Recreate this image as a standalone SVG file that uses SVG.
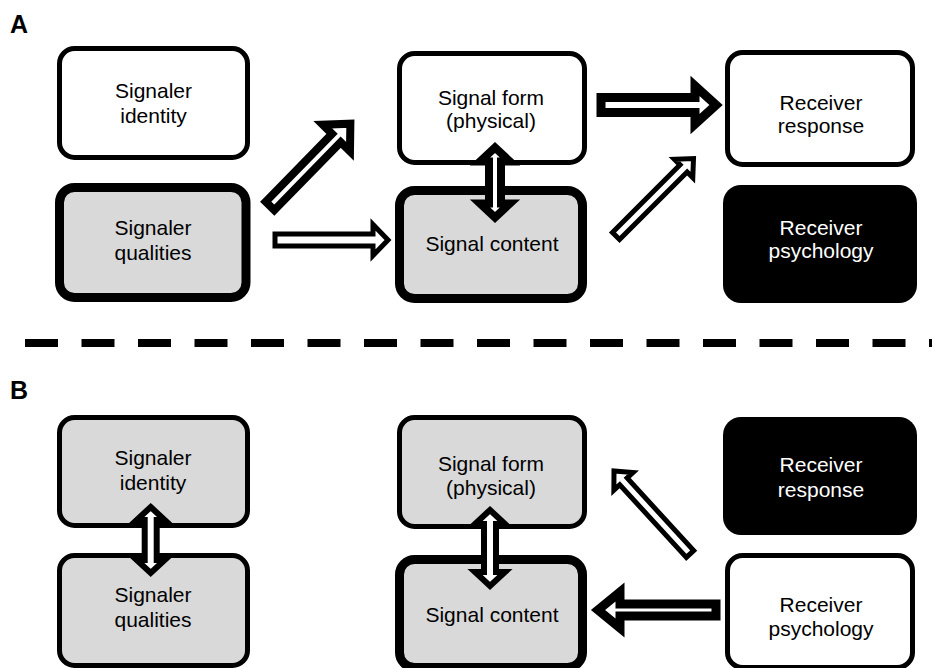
<svg xmlns="http://www.w3.org/2000/svg" width="932" height="668" viewBox="0 0 932 668">
  <style>
    .box { stroke: #000; stroke-linejoin: round; }
    .thin { stroke-width: 5; }
    .thick { stroke-width: 9; }
    .white { fill: #fff; }
    .gray { fill: #d9d9d9; }
    .black { fill: #000; stroke: none; }
    .lbl { font-family: "Liberation Sans", Arial, sans-serif; font-size: 21px; text-anchor: middle; fill: #000; }
    .inv { fill: #fff; }
    .panel { font-family: "Liberation Sans", Arial, sans-serif; font-size: 25px; font-weight: bold; fill: #000; }
    .arrow { fill: #fff; stroke: #000; stroke-linejoin: miter; stroke-miterlimit: 10; }
  </style>

  <rect width="932" height="668" fill="#fff"/>

  <!-- panel letters -->
  <text class="panel" x="10" y="33">A</text>
  <text class="panel" x="10" y="399">B</text>

  <!-- divider between panels -->
  <line x1="25" y1="343" x2="932" y2="343" stroke="#000" stroke-width="8" stroke-dasharray="33 23.5"/>

  <!-- Panel A nodes -->
  <g id="a-signaler-identity">
    <rect class="box thin white" x="59.5" y="48.5" width="188" height="109" rx="15"/>
    <text class="lbl" x="153.5" y="98">Signaler</text>
    <text class="lbl" x="153.5" y="122.5">identity</text>
  </g>
  <g id="a-signaler-qualities">
    <rect class="box thick gray" x="59.5" y="187.5" width="186.5" height="110" rx="15"/>
    <text class="lbl" x="153" y="235">Signaler</text>
    <text class="lbl" x="153" y="260">qualities</text>
  </g>
  <g id="a-signal-form">
    <rect class="box thin white" x="399.5" y="53.5" width="185" height="109" rx="15"/>
    <text class="lbl" x="491" y="105">Signal form</text>
    <text class="lbl" x="491" y="128">(physical)</text>
  </g>
  <g id="a-signal-content">
    <rect class="box thick gray" x="399.5" y="190.5" width="183" height="108" rx="15"/>
    <text class="lbl" x="492" y="251">Signal content</text>
  </g>
  <g id="a-receiver-response">
    <rect class="box thin white" x="727.5" y="52.5" width="185" height="112" rx="15"/>
    <text class="lbl" x="821" y="110">Receiver</text>
    <text class="lbl" x="821" y="133">response</text>
  </g>
  <g id="a-receiver-psychology">
    <rect class="black" x="723" y="185" width="194" height="118" rx="18"/>
    <text class="lbl inv" x="821" y="235">Receiver</text>
    <text class="lbl inv" x="821" y="258">psychology</text>
  </g>

  <!-- Panel B nodes -->
  <g id="b-signaler-identity">
    <rect class="box thin gray" x="59.5" y="417.5" width="188" height="108" rx="15"/>
    <text class="lbl" x="153" y="465">Signaler</text>
    <text class="lbl" x="153" y="490">identity</text>
  </g>
  <g id="b-signaler-qualities">
    <rect class="box thin gray" x="59.5" y="555.5" width="188" height="110" rx="15"/>
    <text class="lbl" x="153" y="602">Signaler</text>
    <text class="lbl" x="153" y="627">qualities</text>
  </g>
  <g id="b-signal-form">
    <rect class="box thin gray" x="399.5" y="417.5" width="185" height="109" rx="15"/>
    <text class="lbl" x="491" y="471">Signal form</text>
    <text class="lbl" x="491" y="495">(physical)</text>
  </g>
  <g id="b-signal-content">
    <rect class="box thick gray" x="399.5" y="559.5" width="183" height="108" rx="15"/>
    <text class="lbl" x="492" y="622">Signal content</text>
  </g>
  <g id="b-receiver-response">
    <rect class="black" x="723" y="417" width="194" height="118" rx="18"/>
    <text class="lbl inv" x="821" y="472">Receiver</text>
    <text class="lbl inv" x="821" y="497">response</text>
  </g>
  <g id="b-receiver-psychology">
    <rect class="box thin white" x="727.5" y="555.5" width="185" height="112" rx="15"/>
    <text class="lbl" x="821" y="612">Receiver</text>
    <text class="lbl" x="821" y="636">psychology</text>
  </g>

  <!-- block-arrow connectors -->
  <g id="connectors">
    <!-- A: qualities -> form -->
    <path class="arrow" stroke-width="8" transform="translate(270,206) rotate(-45.67)" d="M0,-6 H95 V-19 L115,0 L95,19 V6 H0 Z"/>
    <!-- A: qualities -> content -->
    <path class="arrow" stroke-width="5" transform="translate(275,240)" d="M0,-6 H98 V-15.5 L113,0 L98,15.5 V6 H0 Z"/>
    <!-- A: form <-> content -->
    <path class="arrow" stroke-width="8" transform="translate(495,147.5) rotate(90)" d="M0,0 L14,-15 V-6 H56 V-15 L70,0 L56,15 V6 H14 V15 Z"/>
    <!-- A: form -> response -->
    <path class="arrow" stroke-width="9" transform="translate(601,105)" d="M0,-7.5 H94 V-19 L115,0 L94,19 V7.5 H0 Z"/>
    <!-- A: content -> response -->
    <path class="arrow" stroke-width="5" transform="translate(616,236) rotate(-45)" d="M0,-5 H95.6 V-13 L109.6,0 L95.6,13 V5 H0 Z"/>

    <!-- B: identity <-> qualities -->
    <path class="arrow" stroke-width="6" transform="translate(150.7,507) rotate(90)" d="M0,0 L13,-14 V-6 H53 V-14 L66,0 L53,14 V6 H13 V14 Z"/>
    <!-- B: form <-> content -->
    <path class="arrow" stroke-width="6" transform="translate(490,510) rotate(90)" d="M0,0 L14,-15 V-6 H62 V-15 L76,0 L62,15 V6 H14 V15 Z"/>
    <!-- B: psychology -> form -->
    <path class="arrow" stroke-width="5" transform="translate(690,554) rotate(-132.5)" d="M0,-5 H98.5 V-13 L112.5,0 L98.5,13 V5 H0 Z"/>
    <!-- B: psychology -> content -->
    <path class="arrow" stroke-width="9" transform="translate(716,610) rotate(180)" d="M0,-6 H96 V-18 L118,0 L96,18 V6 H0 Z"/>
  </g>
</svg>
